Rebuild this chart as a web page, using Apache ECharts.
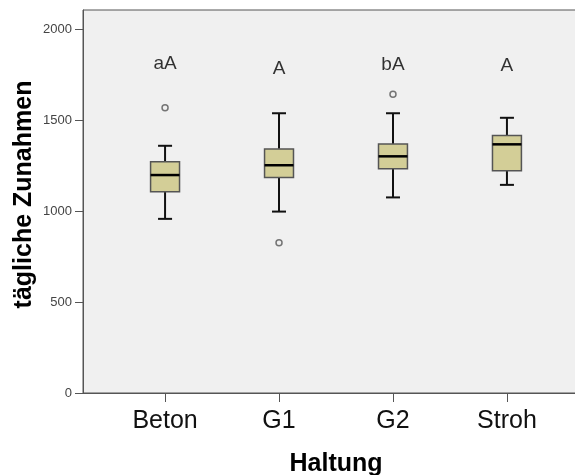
<!DOCTYPE html>
<html>
<head>
<meta charset="utf-8">
<script src="https://cdn.jsdelivr.net/npm/echarts@6/dist/echarts.min.js"></script>
<style>
html,body{margin:0;padding:0;background:#fff;}
#chart{width:575px;height:475px;}
</style>
</head>
<body>
<div id="chart"></div>
<script>
// ---- data ----
const categories = ['Beton', 'G1', 'G2', 'Stroh'];
const whiskerLow  = [958, 998, 1076, 1145];
const quartile1   = [1107, 1186, 1234, 1222];
const medians     = [1199, 1253, 1302, 1368];
const quartile3   = [1272, 1343, 1370, 1417];
const whiskerHigh = [1360, 1539, 1539, 1514];
const outlierCategory = ['Beton', 'G1', 'G2'];
const outlierValues   = [1569, 826, 1643];
const groupLetters    = ['aA', 'A', 'bA', 'A'];
const letterValues    = [1810, 1784, 1808, 1802];
const yTicks = [0, 500, 1000, 1500, 2000];

// ---- build ----
const catPos = categories.map((c, i) => i + 1);
const boxData = categories.map((c, i) => [catPos[i], whiskerLow[i], quartile1[i], medians[i], quartile3[i], whiskerHigh[i]]);
const outlierData = outlierCategory.map((c, i) => [categories.indexOf(c) + 1, outlierValues[i]]);
const letterData = groupLetters.map((t, i) => [catPos[i], letterValues[i]]);

const BOX_W = 0.254, CAP_W = 0.123;

const chart = echarts.init(document.getElementById('chart'), null, {renderer: 'canvas'});
chart.setOption({
  backgroundColor: '#ffffff',
  animation: false,
  grid: {
    left: 83, right: -14, top: 10, bottom: 82,
    containLabel: false, outerBoundsMode: 'none',
    show: true, backgroundColor: '#f0f0f0', borderColor: '#555555', borderWidth: 1
  },
  xAxis: {
    type: 'value', min: 0.28, max: 4.72,
    name: 'Haltung', nameLocation: 'middle', nameGap: 59, nameMoveOverlap: false,
    nameTextStyle: {fontFamily: 'Liberation Sans, Arial, sans-serif', fontSize: 25, fontWeight: 'bold', color: '#000'},
    axisLine: {show: true, onZero: false, lineStyle: {color: '#555555', width: 1}},
    axisTick: {show: true, customValues: catPos, length: 9, lineStyle: {color: '#555555'}},
    axisLabel: {
      customValues: catPos, margin: 16,
      fontFamily: 'Liberation Sans, Arial, sans-serif', fontSize: 25, color: '#111',
      formatter: v => categories[Math.round(v) - 1] || ''
    },
    splitLine: {show: false}
  },
  yAxis: {
    type: 'value', min: 0, max: 2107,
    name: 'tägliche Zunahmen', nameLocation: 'middle', nameGap: 46, nameMoveOverlap: false,
    nameTextStyle: {fontFamily: 'Liberation Sans, Arial, sans-serif', fontSize: 25, fontWeight: 'bold', color: '#000', padding: [0, 0, 0, 14]},
    axisLine: {show: true, lineStyle: {color: '#555555', width: 1}},
    axisTick: {show: true, customValues: yTicks, length: 8, lineStyle: {color: '#555555'}},
    axisLabel: {customValues: yTicks, margin: 11, fontFamily: 'Liberation Sans, Arial, sans-serif', fontSize: 13, color: '#444',
      formatter: v => String(v)},
    splitLine: {show: false}
  },
  series: [
    {
      type: 'custom',
      data: boxData,
      encode: {x: 0, y: [1, 2, 3, 4, 5]},
      renderItem: function (params, api) {
        const x = api.value(0);
        const lo = api.coord([x, api.value(1)]);
        const q1 = api.coord([x, api.value(2)]);
        const md = api.coord([x, api.value(3)]);
        const q3 = api.coord([x, api.value(4)]);
        const hi = api.coord([x, api.value(5)]);
        const hw = api.size([BOX_W, 0])[0] / 2;
        const cw = api.size([CAP_W, 0])[0] / 2;
        const cx = lo[0];
        const wl = {stroke: '#111', lineWidth: 2};
        return {
          type: 'group',
          children: [
            {type: 'line', shape: {x1: cx, y1: hi[1], x2: cx, y2: q3[1]}, style: wl},
            {type: 'line', shape: {x1: cx, y1: q1[1], x2: cx, y2: lo[1]}, style: wl},
            {type: 'line', shape: {x1: cx - cw, y1: hi[1], x2: cx + cw, y2: hi[1]}, style: wl},
            {type: 'line', shape: {x1: cx - cw, y1: lo[1], x2: cx + cw, y2: lo[1]}, style: wl},
            {type: 'rect', shape: {x: cx - hw, y: q3[1], width: hw * 2, height: q1[1] - q3[1]},
              style: {fill: '#d3ce97', stroke: '#555', lineWidth: 1.5}},
            {type: 'line', shape: {x1: cx - hw, y1: md[1], x2: cx + hw, y2: md[1]}, style: {stroke: '#000', lineWidth: 2.5}}
          ]
        };
      }
    },
    {
      type: 'scatter',
      data: outlierData,
      symbol: 'circle', symbolSize: 6,
      itemStyle: {color: 'rgba(0,0,0,0)', borderColor: '#555', borderWidth: 1.5}
    },
    {
      type: 'scatter',
      data: letterData,
      symbolSize: 0,
      label: {
        show: true, position: 'inside',
        fontFamily: 'Liberation Sans, Arial, sans-serif', fontSize: 19, color: '#000',
        formatter: p => groupLetters[p.dataIndex]
      }
    }
  ]
});
</script>
</body>
</html>
